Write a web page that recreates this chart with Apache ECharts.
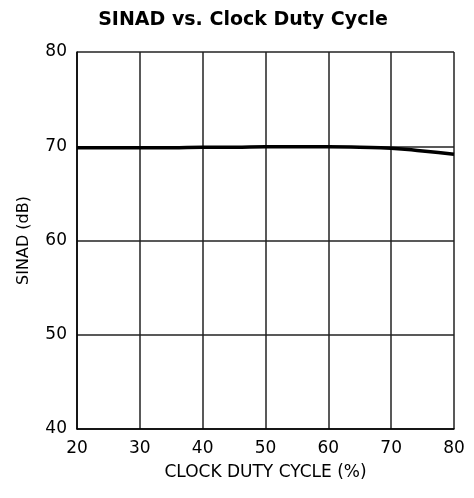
<!DOCTYPE html>
<html>
<head>
<meta charset="utf-8">
<script src="https://cdn.jsdelivr.net/npm/echarts@6/dist/echarts.min.js"></script>
<style>
  html, body { margin: 0; padding: 0; background: #fff; }
  #chart { width: 474px; height: 498px; }
</style>
</head>
<body>
<div id="chart"></div>
<script>
// duty cycle (%) and measured SINAD (dB)
const dutyCycle = [20, 25, 30, 35, 40, 45, 50, 55, 60, 65, 70, 75, 80];
const sinad = [69.85, 69.85, 69.85, 69.85, 69.9, 69.9, 69.95, 69.95, 69.95, 69.9, 69.8, 69.5, 69.15];

const chart = echarts.init(document.getElementById('chart'));

const font = 'DejaVu Sans, Arial, sans-serif';

chart.setOption({
    animation: false,
    title: {
        text: 'SINAD vs. Clock Duty Cycle',
        left: 238,
        top: 6,
        textAlign: 'center',
        textStyle: { fontFamily: font, fontSize: 19, fontWeight: 'bold', color: '#000' }
    },
    grid: { left: 77, right: 20, top: 52, bottom: 69 },
    xAxis: {
        type: 'value',
        min: 20,
        max: 80,
        interval: 10,
        name: 'CLOCK DUTY CYCLE (%)',
        nameLocation: 'middle',
        nameGap: 35,
        nameTextStyle: { fontFamily: font, fontSize: 17, color: '#000' },
        axisLine: { show: true, lineStyle: { color: '#000', width: 1.5 } },
        axisTick: { show: false },
        axisLabel: { fontFamily: font, fontSize: 17, color: '#000', margin: 11 },
        splitLine: { show: true, lineStyle: { color: '#222', width: 1.5 } }
    },
    yAxis: {
        type: 'value',
        min: 40,
        max: 80,
        interval: 10,
        name: 'SINAD (dB)',
        nameLocation: 'middle',
        nameGap: 45,
        nameTextStyle: { fontFamily: font, fontSize: 16, color: '#000' },
        axisLine: { show: true, lineStyle: { color: '#000', width: 1.5 } },
        axisTick: { show: false },
        axisLabel: { fontFamily: font, fontSize: 17, color: '#000', margin: 10 },
        splitLine: { show: true, lineStyle: { color: '#222', width: 1.5 } }
    },
    series: [
        {
            type: 'line',
            data: dutyCycle.map((x, i) => [x, sinad[i]]),
            symbol: 'none',
            smooth: true,
            lineStyle: { color: '#000', width: 3.5 }
        }
    ]
});
</script>
</body>
</html>
